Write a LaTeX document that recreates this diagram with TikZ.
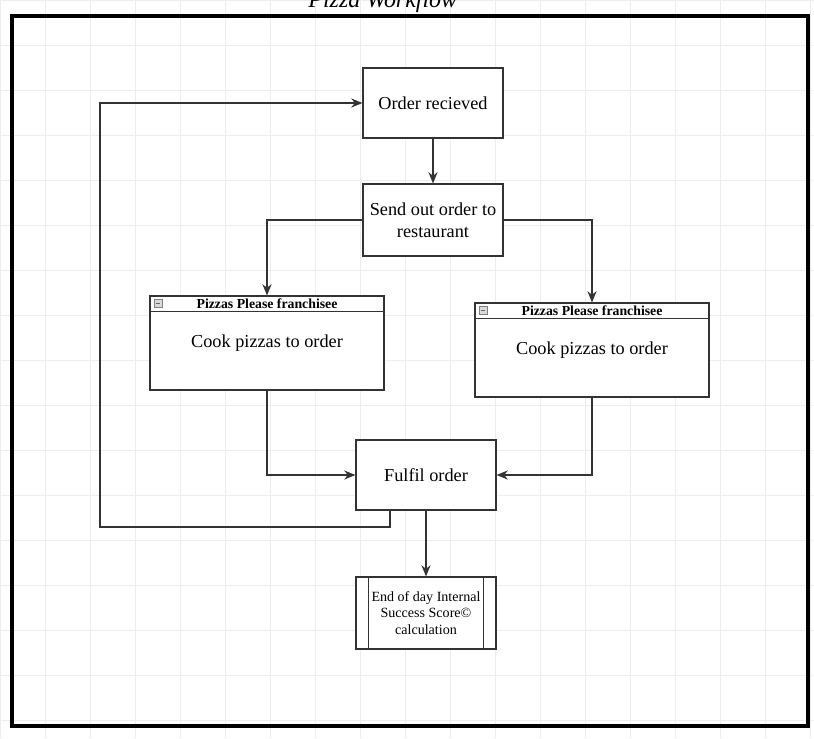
\documentclass[tikz,border=0pt]{standalone}
\usepackage{fontspec}
\setmainfont{Liberation Serif}
\usetikzlibrary{positioning,arrows.meta}
\tikzset{>={Stealth[length=8pt,width=6.5pt]}}
\colorlet{background}{white}
\colorlet{penColor}{black!80}
\colorlet{gridColor}{black!7}
\tikzset{
  stepbox/.style={draw=penColor, line width=0.8pt, fill=white, minimum width=3.5cm,
    minimum height=1.75cm, align=center, font=\fontsize{13}{15.5}\selectfont},
  lane/.style={draw=penColor, line width=0.8pt, fill=white, minimum width=5.85cm,
    minimum height=2.35cm, font=\fontsize{13}{15.5}\selectfont},
  laneHead/.style={font=\fontsize{9.8}{11}\selectfont\bfseries, inner sep=0pt},
  link/.style={->, draw=penColor, line width=0.8pt},
}

\begin{document}
\begin{tikzpicture}[x=0.025cm, y=-0.025cm]
\clip (0,0) rectangle (814,738);
\draw[gridColor, step=1.125cm] (0,0) grid (814,738);
\node[anchor=base east, font=\fontsize{17}{19}\selectfont\itshape] (title) at (462,7) {Pizza Workflow};
\draw[line width=2.6pt] (12,16) rectangle (808,726);

\node[stepbox] (order) at (433,103) {Order recieved};
\node[stepbox, minimum height=1.8cm] (send) at (433,220) {Send out order to\\restaurant};
\node[lane] (cookL) at (267,343) {Cook pizzas to order};
\node[lane] (cookR) at (592,350) {Cook pizzas to order};
\node[stepbox] (fulfil) at (426,475) {Fulfil order};
\node[stepbox, minimum height=1.8cm, font=\fontsize{10}{12}\selectfont] (endday) at (426,613) {End of day Internal\\Success Score©\\calculation};

% franchisee lanes
\foreach \lane in {cookL,cookR} {
  \draw[penColor, line width=0.8pt] ([yshift=-0.4cm]\lane.north west) -- ([yshift=-0.4cm]\lane.north east);
  \node[laneHead] (\lane-head) at ([yshift=-0.2cm]\lane.north) {Pizzas Please franchisee};
  \node[draw=black!50, fill=black!15, minimum size=0.19cm, inner sep=0pt] (\lane-icon) at ([xshift=0.22cm,yshift=-0.2cm]\lane.north west) {};
  \draw[black!60] ([xshift=-0.05cm]\lane-icon.center) -- ([xshift=0.05cm]\lane-icon.center);
}
\draw[penColor] ([xshift=0.33cm]endday.north west) -- ([xshift=0.33cm]endday.south west);
\draw[penColor] ([xshift=-0.33cm]endday.north east) -- ([xshift=-0.33cm]endday.south east);

\draw[link] (order) -- (send);
\draw[link] (send.west) -| (cookL.north);
\draw[link] (send.east) -| (cookR.north);
\draw[link] (cookL.south) |- (fulfil.west);
\draw[link] (cookR.south) |- (fulfil.east);
\coordinate (loopCorner) at (100,527);
\draw[link] ([xshift=-0.9cm]fulfil.south) |- (loopCorner) |- (order.west);
\draw[link] (fulfil) -- (endday);
\end{tikzpicture}
\end{document}
